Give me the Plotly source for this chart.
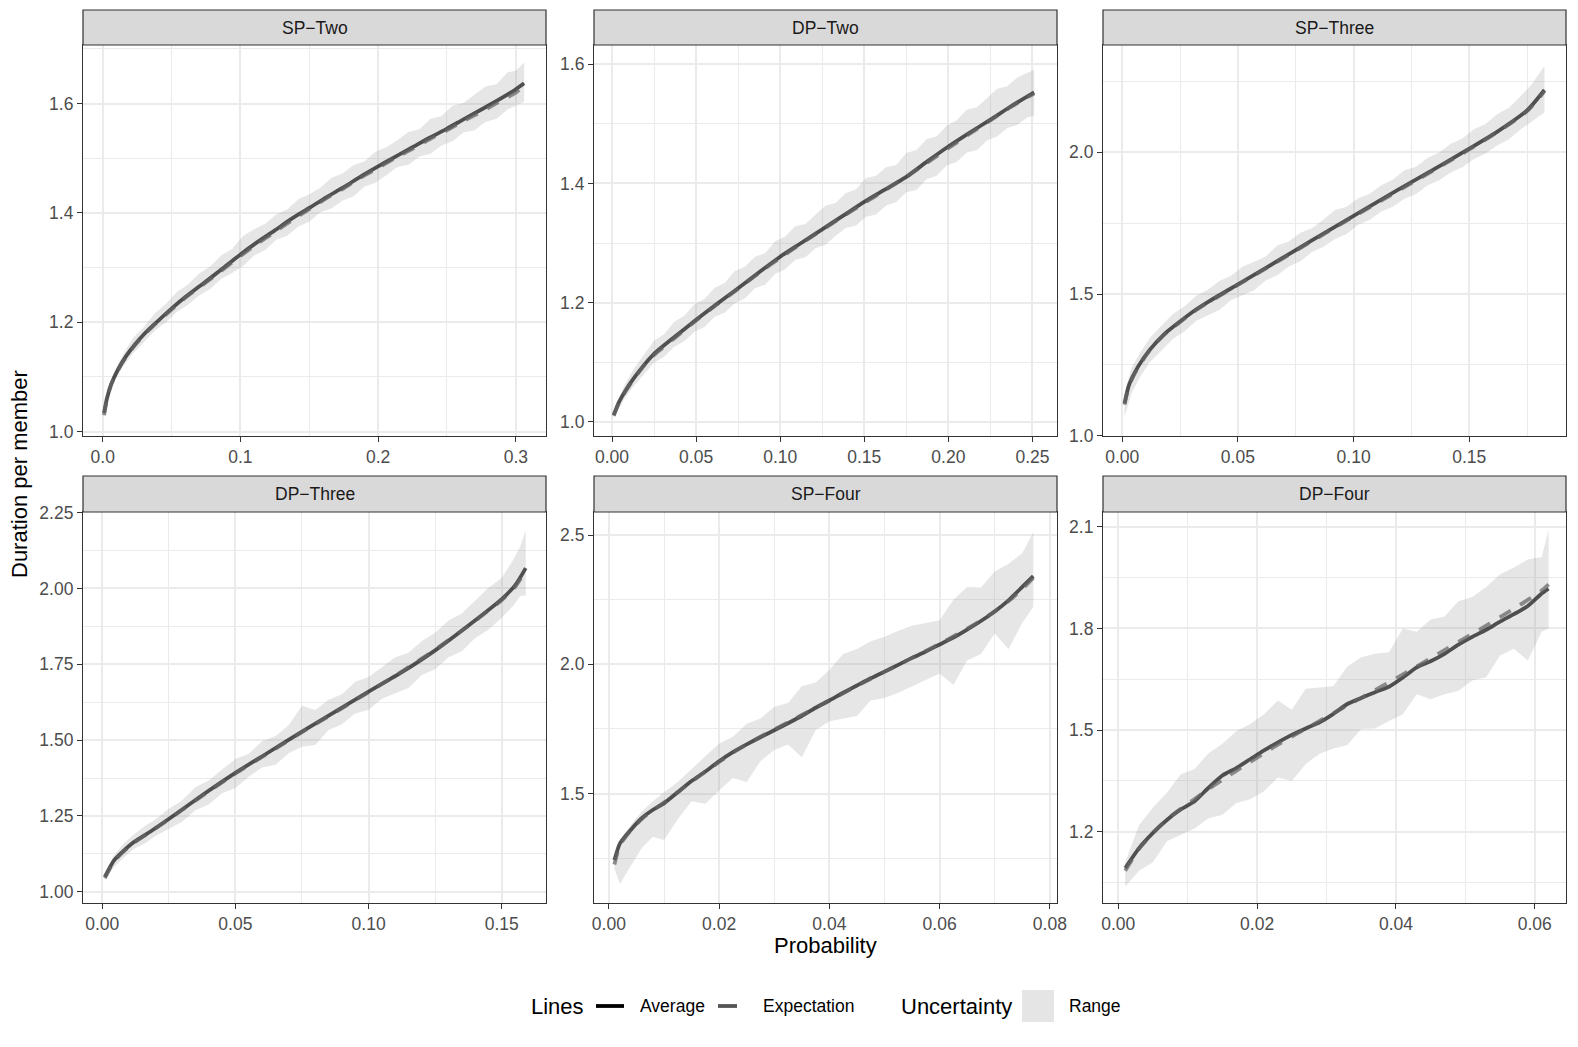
import plotly.graph_objects as go

W, H = 1578, 1047
FONT = "Liberation Sans, Arial, sans-serif"

# ---------------- data ----------------
panel_titles = ["SP\u2212Two", "DP\u2212Two", "SP\u2212Three", "DP\u2212Three", "SP\u2212Four", "DP\u2212Four"]

# --- SP-Two ---
sp_two_x = [0.001, 0.003, 0.006, 0.011, 0.017, 0.024, 0.030, 0.037, 0.050, 0.060, 0.073, 0.085, 0.100, 0.112, 0.125,
            0.137, 0.150, 0.162, 0.175, 0.187, 0.200, 0.212, 0.225, 0.237, 0.250, 0.262, 0.275, 0.287, 0.300, 0.306]
sp_two_avg = [1.034, 1.060, 1.086, 1.113, 1.138, 1.161, 1.178, 1.195, 1.225, 1.246, 1.271, 1.294, 1.324, 1.346, 1.368,
              1.389, 1.409, 1.428, 1.447, 1.466, 1.485, 1.502, 1.520, 1.537, 1.554, 1.571, 1.589, 1.606, 1.626, 1.637]
sp_two_exp = [1.030, 1.058, 1.085, 1.112, 1.137, 1.160, 1.177, 1.194, 1.223, 1.245, 1.269, 1.292, 1.321, 1.343, 1.365,
              1.386, 1.407, 1.426, 1.445, 1.464, 1.482, 1.500, 1.517, 1.534, 1.551, 1.568, 1.585, 1.602, 1.620, 1.634]
sp_two_band_x = [0.001, 0.008, 0.015, 0.022, 0.030, 0.038, 0.046, 0.054, 0.062, 0.070, 0.078, 0.086, 0.094, 0.102,
                 0.110, 0.118, 0.126, 0.134, 0.142, 0.150, 0.158, 0.166, 0.174, 0.182, 0.190, 0.198, 0.206, 0.214,
                 0.222, 0.230, 0.238, 0.246, 0.254, 0.262, 0.270, 0.278, 0.286, 0.294, 0.300, 0.306]
sp_two_hi = [1.040, 1.107, 1.142, 1.171, 1.192, 1.217, 1.234, 1.256, 1.269, 1.289, 1.302, 1.322, 1.334, 1.358,
             1.370, 1.380, 1.397, 1.406, 1.425, 1.434, 1.446, 1.464, 1.472, 1.487, 1.494, 1.512, 1.520, 1.533,
             1.548, 1.553, 1.572, 1.577, 1.596, 1.601, 1.616, 1.631, 1.635, 1.657, 1.660, 1.675]
sp_two_lo = [1.028, 1.089, 1.120, 1.143, 1.164, 1.185, 1.200, 1.219, 1.232, 1.249, 1.261, 1.279, 1.290, 1.303,
             1.322, 1.332, 1.351, 1.358, 1.375, 1.384, 1.401, 1.408, 1.422, 1.430, 1.448, 1.455, 1.469, 1.484,
             1.488, 1.503, 1.508, 1.523, 1.531, 1.547, 1.551, 1.566, 1.572, 1.589, 1.596, 1.603]

# --- DP-Two ---
dp_two_x = [0.001, 0.004, 0.008, 0.013, 0.019, 0.025, 0.0375, 0.05, 0.0625, 0.075, 0.0875, 0.1, 0.1125, 0.125,
            0.1375, 0.15, 0.1625, 0.175, 0.1875, 0.2, 0.2125, 0.225, 0.2375, 0.251]
dp_two_avg = [1.011, 1.032, 1.052, 1.073, 1.095, 1.114, 1.143, 1.171, 1.198, 1.224, 1.251, 1.277, 1.300, 1.323,
              1.346, 1.369, 1.390, 1.411, 1.437, 1.462, 1.485, 1.507, 1.530, 1.553]
dp_two_exp = [1.010, 1.031, 1.051, 1.072, 1.094, 1.112, 1.141, 1.170, 1.197, 1.223, 1.250, 1.275, 1.299, 1.322,
              1.345, 1.367, 1.389, 1.411, 1.435, 1.459, 1.483, 1.506, 1.529, 1.551]
dp_two_band_x = [0.001, 0.007, 0.013, 0.019, 0.025, 0.031, 0.037, 0.043, 0.049, 0.055, 0.061, 0.067, 0.073, 0.079,
                 0.085, 0.091, 0.097, 0.103, 0.109, 0.115, 0.121, 0.127, 0.133, 0.139, 0.145, 0.151, 0.157, 0.163,
                 0.169, 0.175, 0.181, 0.187, 0.193, 0.199, 0.205, 0.211, 0.217, 0.223, 0.229, 0.235, 0.241, 0.247,
                 0.251]
dp_two_hi = [1.016, 1.059, 1.089, 1.113, 1.136, 1.147, 1.168, 1.178, 1.197, 1.206, 1.225, 1.233, 1.253, 1.260,
             1.277, 1.283, 1.303, 1.311, 1.328, 1.332, 1.347, 1.363, 1.367, 1.384, 1.390, 1.409, 1.413, 1.427,
             1.431, 1.451, 1.456, 1.474, 1.479, 1.497, 1.506, 1.524, 1.528, 1.543, 1.559, 1.563, 1.578, 1.586,
             1.591]
dp_two_lo = [1.006, 1.037, 1.060, 1.079, 1.099, 1.109, 1.126, 1.135, 1.151, 1.159, 1.176, 1.183, 1.199, 1.207,
             1.224, 1.230, 1.248, 1.256, 1.272, 1.276, 1.291, 1.297, 1.312, 1.325, 1.329, 1.344, 1.348, 1.363,
             1.369, 1.385, 1.389, 1.407, 1.413, 1.430, 1.436, 1.452, 1.456, 1.472, 1.479, 1.493, 1.498, 1.511,
             1.513]

# --- SP-Three ---
sp_three_x = [0.001, 0.003, 0.0068, 0.0118, 0.018, 0.025, 0.031, 0.0375, 0.05, 0.0625, 0.075, 0.0875, 0.1, 0.1125,
              0.125, 0.1375, 0.15, 0.1625, 0.175, 0.1825]
sp_three_avg = [1.114, 1.180, 1.243, 1.302, 1.357, 1.403, 1.440, 1.474, 1.534, 1.594, 1.655, 1.716, 1.776, 1.836,
                1.895, 1.953, 2.013, 2.075, 2.148, 2.220]
sp_three_exp = [1.110, 1.178, 1.240, 1.300, 1.355, 1.401, 1.438, 1.472, 1.532, 1.592, 1.653, 1.713, 1.773, 1.832,
                1.891, 1.950, 2.010, 2.073, 2.145, 2.215]
sp_three_band_x = [0.001, 0.004, 0.008, 0.012, 0.017, 0.022, 0.027, 0.032, 0.037, 0.042, 0.047, 0.052, 0.057,
                   0.062, 0.067, 0.072, 0.077, 0.082, 0.087, 0.092, 0.097, 0.102, 0.107, 0.112, 0.117, 0.122,
                   0.127, 0.132, 0.137, 0.142, 0.147, 0.152, 0.157, 0.162, 0.167, 0.172, 0.177, 0.1825]
sp_three_hi = [1.150, 1.240, 1.296, 1.346, 1.389, 1.430, 1.457, 1.494, 1.515, 1.546, 1.564, 1.596, 1.614, 1.632,
               1.671, 1.685, 1.716, 1.732, 1.763, 1.796, 1.808, 1.838, 1.854, 1.884, 1.904, 1.937, 1.949, 1.980,
               1.999, 2.030, 2.049, 2.081, 2.100, 2.134, 2.156, 2.196, 2.240, 2.305]
sp_three_lo = [1.066, 1.150, 1.212, 1.260, 1.301, 1.342, 1.369, 1.406, 1.426, 1.444, 1.478, 1.495, 1.513, 1.548,
               1.566, 1.597, 1.616, 1.648, 1.667, 1.694, 1.712, 1.744, 1.762, 1.791, 1.808, 1.836, 1.853, 1.884,
               1.901, 1.929, 1.947, 1.976, 1.995, 2.024, 2.045, 2.080, 2.110, 2.140]

# --- DP-Three ---
dp_three_x = [0.001, 0.0046, 0.0113, 0.018, 0.025, 0.0375, 0.05, 0.0625, 0.075, 0.0875, 0.1, 0.1125, 0.125, 0.1375,
              0.15, 0.155, 0.159]
dp_three_avg = [1.049, 1.105, 1.160, 1.198, 1.240, 1.318, 1.392, 1.460, 1.528, 1.594, 1.660, 1.724, 1.796, 1.878,
                1.965, 2.010, 2.067]
dp_three_exp = [1.045, 1.102, 1.158, 1.197, 1.239, 1.316, 1.390, 1.458, 1.526, 1.592, 1.658, 1.726, 1.798, 1.877,
                1.962, 2.005, 2.060]
dp_three_band_x = [0.001, 0.004, 0.008, 0.012, 0.016, 0.020, 0.025, 0.030, 0.035, 0.040, 0.045, 0.050, 0.055,
                   0.060, 0.065, 0.070, 0.075, 0.080, 0.085, 0.090, 0.095, 0.100, 0.105, 0.110, 0.115, 0.120,
                   0.125, 0.130, 0.135, 0.140, 0.145, 0.150, 0.154, 0.157, 0.159]
dp_three_hi = [1.059, 1.115, 1.158, 1.190, 1.217, 1.238, 1.274, 1.301, 1.345, 1.367, 1.403, 1.438, 1.455, 1.496,
               1.513, 1.549, 1.613, 1.599, 1.633, 1.651, 1.692, 1.708, 1.740, 1.773, 1.788, 1.827, 1.854, 1.894,
               1.917, 1.959, 2.002, 2.035, 2.090, 2.140, 2.192]
dp_three_lo = [1.037, 1.077, 1.112, 1.142, 1.159, 1.184, 1.208, 1.231, 1.269, 1.288, 1.325, 1.342, 1.379, 1.410,
               1.418, 1.457, 1.478, 1.484, 1.533, 1.552, 1.588, 1.600, 1.636, 1.653, 1.672, 1.715, 1.734, 1.773,
               1.793, 1.837, 1.864, 1.903, 1.940, 1.975, 1.977]

# --- SP-Four ---
sp_four_x = [0.001, 0.002, 0.004, 0.006, 0.008, 0.010, 0.0125, 0.015, 0.0175, 0.020, 0.0225, 0.025, 0.0275, 0.030,
             0.0325, 0.035, 0.0375, 0.040, 0.0425, 0.045, 0.0475, 0.050, 0.0525, 0.055, 0.0575, 0.060, 0.0625,
             0.065, 0.0675, 0.070, 0.0725, 0.075, 0.077]
sp_four_avg = [1.242, 1.307, 1.360, 1.405, 1.437, 1.462, 1.505, 1.548, 1.585, 1.625, 1.660, 1.690, 1.718, 1.745,
               1.772, 1.800, 1.832, 1.860, 1.890, 1.918, 1.946, 1.972, 1.998, 2.025, 2.050, 2.077, 2.104,
               2.135, 2.168, 2.205, 2.248, 2.300, 2.342]
sp_four_exp = [1.225, 1.300, 1.358, 1.402, 1.436, 1.465, 1.506, 1.546, 1.584, 1.622, 1.658, 1.690, 1.720, 1.748,
               1.776, 1.804, 1.832, 1.860, 1.888, 1.916, 1.944, 1.971, 1.998, 2.025, 2.052, 2.080, 2.108,
               2.138, 2.170, 2.205, 2.245, 2.292, 2.335]
sp_four_band_x = sp_four_x
sp_four_lo = [1.210, 1.150, 1.220, 1.290, 1.333, 1.320, 1.400, 1.470, 1.460, 1.512, 1.560, 1.545, 1.625, 1.668,
              1.690, 1.640, 1.745, 1.780, 1.790, 1.800, 1.860, 1.870, 1.890, 1.915, 1.940, 1.965, 1.920,
              2.015, 2.040, 2.120, 2.060, 2.160, 2.223]
sp_four_hi = [1.255, 1.315, 1.380, 1.430, 1.470, 1.505, 1.545, 1.595, 1.645, 1.694, 1.720, 1.770, 1.790, 1.836,
              1.850, 1.915, 1.930, 1.978, 2.040, 2.060, 2.090, 2.107, 2.130, 2.150, 2.160, 2.171, 2.250,
              2.300, 2.298, 2.360, 2.390, 2.430, 2.513]

# --- DP-Four ---
dp_four_x = [0.001, 0.003, 0.005, 0.007, 0.009, 0.011, 0.013, 0.015, 0.017, 0.019, 0.021, 0.023, 0.025, 0.027,
             0.029, 0.031, 0.033, 0.035, 0.037, 0.039, 0.041, 0.043, 0.045, 0.047, 0.049, 0.051, 0.053, 0.055,
             0.057, 0.059, 0.061, 0.062]
dp_four_avg = [1.093, 1.152, 1.197, 1.235, 1.266, 1.290, 1.330, 1.366, 1.388, 1.414, 1.440, 1.464, 1.486, 1.505,
               1.523, 1.548, 1.577, 1.595, 1.612, 1.628, 1.655, 1.685, 1.703, 1.725, 1.752, 1.775, 1.796, 1.820,
               1.842, 1.866, 1.903, 1.917]
dp_four_exp = [1.085, 1.150, 1.197, 1.236, 1.268, 1.297, 1.326, 1.353, 1.380, 1.406, 1.432, 1.457, 1.481, 1.504,
               1.527, 1.550, 1.573, 1.595, 1.618, 1.641, 1.664, 1.688, 1.712, 1.736, 1.760, 1.784, 1.808, 1.833,
               1.858, 1.884, 1.912, 1.930]
dp_four_band_x = dp_four_x
dp_four_lo = [1.039, 1.085, 1.110, 1.172, 1.192, 1.210, 1.240, 1.250, 1.285, 1.296, 1.320, 1.360, 1.350, 1.400,
              1.430, 1.446, 1.456, 1.503, 1.505, 1.527, 1.547, 1.606, 1.591, 1.606, 1.616, 1.646, 1.656, 1.720,
              1.740, 1.705, 1.790, 1.800]
dp_four_hi = [1.110, 1.220, 1.272, 1.315, 1.370, 1.385, 1.432, 1.460, 1.497, 1.518, 1.547, 1.587, 1.560, 1.622,
              1.626, 1.630, 1.688, 1.715, 1.725, 1.730, 1.800, 1.790, 1.826, 1.835, 1.880, 1.893, 1.922, 1.960,
              1.980, 2.003, 2.011, 2.090]

# axis tick settings per panel
x_ticks = [(0.1, ".1f"), (0.05, ".2f"), (0.05, ".2f"), (0.05, ".2f"), (0.02, ".2f"), (0.02, ".2f")]
y_ticks = [(1.0, 0.2, ".1f"), (1.0, 0.2, ".1f"), (1.0, 0.5, ".1f"), (1.0, 0.25, ".2f"), (1.0, 0.5, ".1f"),
           (1.2, 0.3, ".1f")]
x_ranges = [[-0.0143, 0.3219], [-0.0107, 0.2646], [-0.0083, 0.1918], [-0.0072, 0.1666], [-0.0027, 0.0813],
            [-0.0022, 0.0645]]
y_ranges = [[0.992, 1.707], [0.976, 1.6324], [0.999, 2.3786], [0.963, 2.252], [1.076, 2.590], [0.990, 2.1434]]

series = [
    (sp_two_x, sp_two_avg, sp_two_exp, sp_two_band_x, sp_two_lo, sp_two_hi),
    (dp_two_x, dp_two_avg, dp_two_exp, dp_two_band_x, dp_two_lo, dp_two_hi),
    (sp_three_x, sp_three_avg, sp_three_exp, sp_three_band_x, sp_three_lo, sp_three_hi),
    (dp_three_x, dp_three_avg, dp_three_exp, dp_three_band_x, dp_three_lo, dp_three_hi),
    (sp_four_x, sp_four_avg, sp_four_exp, sp_four_band_x, sp_four_lo, sp_four_hi),
    (dp_four_x, dp_four_avg, dp_four_exp, dp_four_band_x, dp_four_lo, dp_four_hi),
]

# ---------------- layout geometry (pixels) ----------------
def px(x):
    return x / W


def py(y):
    return 1 - y / H


cols = [(83, 546), (594, 1057), (1103, 1566)]
rows = [((10, 45), (45, 436)), ((476, 512), (512, 903))]

RIBBON = "rgba(150,150,150,0.24)"
AVG_COL = "rgba(0,0,0,0.66)"
EXP_COL = "rgba(100,100,100,0.72)"
GRID = "#EBEBEB"
FRAME = "#333333"
SMALL = 17.5
LARGE = 22

fig = go.Figure()
shapes = []
annotations = []
layout_axes = {}

for i, (xs, avg, exp, bx, lo, hi) in enumerate(series):
    k = i + 1
    r, c = divmod(i, 3)
    (s0, s1), (p0, p1) = rows[r]
    c0, c1 = cols[c]
    xa, ya = f"x{k}", f"y{k}"

    fig.add_trace(go.Scatter(x=list(bx) + list(bx)[::-1], y=hi + lo[::-1], fill="toself", fillcolor=RIBBON,
                             line=dict(width=0), mode="lines", hoverinfo="skip", showlegend=False,
                             xaxis=xa, yaxis=ya))
    fig.add_trace(go.Scatter(x=xs, y=avg, mode="lines", line=dict(color=AVG_COL, width=3.8, shape="spline",
                                                                  smoothing=0.6),
                             name="Average", showlegend=False, xaxis=xa, yaxis=ya))
    fig.add_trace(go.Scatter(x=xs, y=exp, mode="lines", line=dict(color=EXP_COL, width=3.8, dash="13px,11px",
                                                                  shape="spline", smoothing=0.6),
                             name="Expectation", showlegend=False, xaxis=xa, yaxis=ya))

    xd, xf = x_ticks[i]
    yt0, yd, yf = y_ticks[i]
    common = dict(showgrid=True, gridcolor=GRID, gridwidth=1.5, zeroline=False, showline=True,
                  linecolor=FRAME, linewidth=1.2, mirror=True, ticks="outside", ticklen=5, tickwidth=1.1,
                  tickcolor=FRAME, tickfont=dict(family=FONT, size=SMALL, color="#4D4D4D"), fixedrange=True,
                  automargin=False)
    layout_axes[f"xaxis{k}"] = dict(common, domain=[px(c0), px(c1)], anchor=ya, range=x_ranges[i],
                                    tick0=0, dtick=xd, tickformat=xf,
                                    minor=dict(tick0=0, dtick=xd / 2, showgrid=True, gridcolor=GRID,
                                               gridwidth=0.8, ticks=""))
    layout_axes[f"yaxis{k}"] = dict(common, domain=[py(p1), py(p0)], anchor=xa, range=y_ranges[i],
                                    tick0=yt0, dtick=yd, tickformat=yf,
                                    minor=dict(tick0=yt0, dtick=yd / 2, showgrid=True, gridcolor=GRID,
                                               gridwidth=0.8, ticks=""))

    # facet strip
    shapes.append(dict(type="rect", xref="paper", yref="paper", x0=px(c0), x1=px(c1), y0=py(s1), y1=py(s0),
                       fillcolor="#D9D9D9", line=dict(color=FRAME, width=1.2), layer="above"))
    annotations.append(dict(text=panel_titles[i], xref="paper", yref="paper", x=px((c0 + c1) / 2),
                            y=py((s0 + s1) / 2), showarrow=False, xanchor="center", yanchor="middle",
                            font=dict(family=FONT, size=SMALL, color="#1A1A1A")))

# axis titles
annotations.append(dict(text="Probability", xref="paper", yref="paper", x=px((594 + 1057) / 2), y=py(945),
                        showarrow=False, xanchor="center", yanchor="middle",
                        font=dict(family=FONT, size=LARGE, color="black")))
annotations.append(dict(text="Duration per member", xref="paper", yref="paper", x=px(19), y=py(474),
                        showarrow=False, xanchor="center", yanchor="middle", textangle=-90,
                        font=dict(family=FONT, size=LARGE, color="black")))

# legend (drawn manually to follow the ggplot layout)
LEG_Y = 1006
annotations.append(dict(text="Lines", xref="paper", yref="paper", x=px(529), y=py(LEG_Y), showarrow=False,
                        xanchor="left", yanchor="middle", font=dict(family=FONT, size=LARGE, color="black")))
shapes.append(dict(type="line", xref="paper", yref="paper", x0=px(596), x1=px(624), y0=py(LEG_Y), y1=py(LEG_Y),
                   line=dict(color="black", width=3.8)))
annotations.append(dict(text="Average", xref="paper", yref="paper", x=px(638), y=py(LEG_Y), showarrow=False,
                        xanchor="left", yanchor="middle", font=dict(family=FONT, size=SMALL, color="black")))
shapes.append(dict(type="line", xref="paper", yref="paper", x0=px(718), x1=px(737), y0=py(LEG_Y), y1=py(LEG_Y),
                   line=dict(color="#555555", width=3.8)))
annotations.append(dict(text="Expectation", xref="paper", yref="paper", x=px(761), y=py(LEG_Y), showarrow=False,
                        xanchor="left", yanchor="middle", font=dict(family=FONT, size=SMALL, color="black")))
annotations.append(dict(text="Uncertainty", xref="paper", yref="paper", x=px(899), y=py(LEG_Y), showarrow=False,
                        xanchor="left", yanchor="middle", font=dict(family=FONT, size=LARGE, color="black")))
shapes.append(dict(type="rect", xref="paper", yref="paper", x0=px(1022), x1=px(1054), y0=py(LEG_Y + 16),
                   y1=py(LEG_Y - 16), fillcolor="#E5E5E5", line=dict(width=0)))
annotations.append(dict(text="Range", xref="paper", yref="paper", x=px(1067), y=py(LEG_Y), showarrow=False,
                        xanchor="left", yanchor="middle", font=dict(family=FONT, size=SMALL, color="black")))

fig.update_layout(
    width=W, height=H,
    margin=dict(l=0, r=0, t=0, b=0, autoexpand=False),
    paper_bgcolor="white", plot_bgcolor="white",
    font=dict(family=FONT, color="black"),
    showlegend=False,
    shapes=shapes,
    annotations=annotations,
    **layout_axes,
)

fig.write_html("out.html", config={"displayModeBar": False},
               post_script="document.body.style.margin='0';document.body.style.overflow='hidden';")
